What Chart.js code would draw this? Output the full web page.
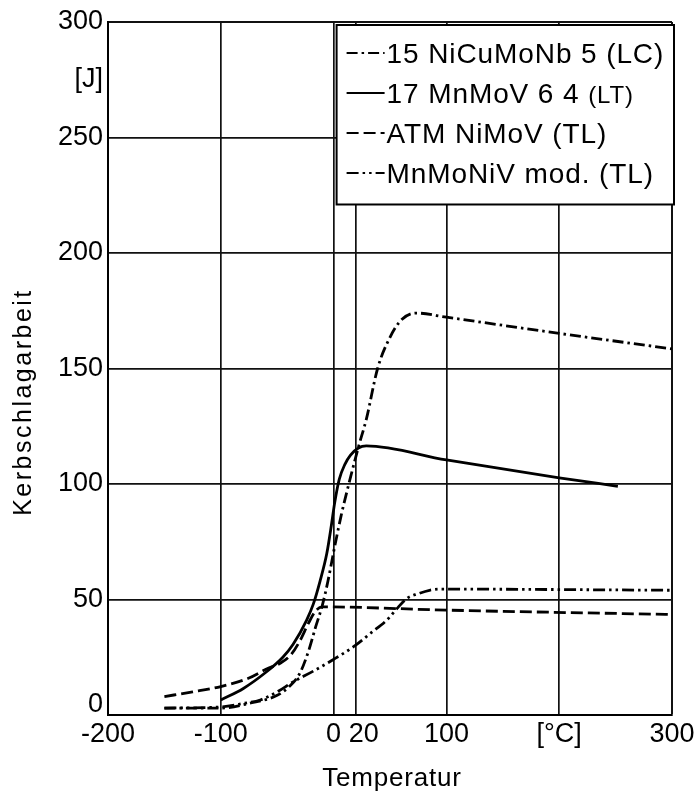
<!DOCTYPE html>
<html>
<head>
<meta charset="utf-8">
<script src="https://cdn.jsdelivr.net/npm/chart.js@4.4.1/dist/chart.umd.min.js"></script>
<style>
  html, body { margin: 0; padding: 0; background: #fff; }
  #wrap { width: 700px; height: 798px; position: relative; }
</style>
</head>
<body>
<div id="wrap"><canvas id="kerbChart"></canvas></div>
<script>
// Kerbschlagarbeit über Temperatur – vier Werkstoffe

const seriesNames = [
  "15 NiCuMoNb 5 (LC)",
  "17 MnMoV 6 4 (LT)",
  "ATM NiMoV (TL)",
  "MnMoNiV mod. (TL)",
];

// 15 NiCuMoNb 5 (LC)
const lcTemp = [-150, -100, -75, -50, -40, -30, -22, -16, -10, -5, 1, 7, 14, 22, 29, 39, 50, 60, 73, 100, 200, 300];
const lcEnergy = [3, 3, 5, 8.5, 12, 18, 28, 38, 47.5, 58, 73, 87, 101, 116, 128, 150, 163.5, 171, 174, 172.2, 165.2, 158.5];

// 17 MnMoV 6 4 (LT)
const ltTemp = [-100, -80, -60, -45, -36, -24, -18, -12, -6, -2, 1, 5, 10, 15, 22, 29, 100, 200, 252];
const ltEnergy = [6.5, 11.5, 18.5, 25, 30.5, 41, 48, 58, 70, 82, 92, 102, 108.5, 112.5, 115.6, 116.5, 110.4, 102.7, 99];

// ATM NiMoV (TL)
const atmTemp = [-150, -125, -100, -75, -59, -47, -38, -30, -22, -16, -10, 100, 300];
const atmEnergy = [8, 10, 12.3, 16, 20, 22.5, 26, 32, 40, 45, 46.8, 45.4, 43.5];

// MnMoNiV mod. (TL)
const modTemp = [-150, -100, -80, -65, -50, -36, -18, -2, 19, 33, 47, 57, 65, 75, 85, 95, 300];
const modEnergy = [3, 3.5, 5, 6.5, 10, 14.3, 19, 23.5, 30, 35.5, 41, 46.5, 50.5, 52.5, 54, 54.5, 54];

const xTickValues = [-200, -100, 0, 20, 100, 200, 300];
const xTickLabels = ["-200", "-100", "0", "20", "100", "[°C]", "300"];
const yTickValues = [0, 50, 100, 150, 200, 250, 275, 300];
const yTickLabels = ["0", "50", "100", "150", "200", "250", "[J]", "300"];

const FONT = "'Liberation Sans', Arial, Helvetica, sans-serif";

function toPoints(xs, ys) {
  return xs.map((x, i) => ({ x, y: ys[i] }));
}

function curve(label, xs, ys, dash) {
  return {
    label,
    data: toPoints(xs, ys),
    borderColor: "#000",
    borderWidth: 2.8,
    borderDash: dash,
    pointRadius: 0,
    fill: false,
    cubicInterpolationMode: "monotone",
  };
}

// Legende im Diagramm + Achsentitel
const overlayPlugin = {
  id: "overlay",
  afterDraw(chart, args, opts) {
    const { ctx, chartArea: a, scales } = chart;
    const x = scales.x, y = scales.y;

    const left = x.getPixelForValue(0) + 3;
    const top = a.top + 3;
    const right = a.right + 2;
    const bottom = y.getPixelForValue(221);

    ctx.save();
    ctx.fillStyle = "#fff";
    ctx.fillRect(left, top, right - left, bottom - top);
    ctx.lineWidth = 2;
    ctx.strokeStyle = "#000";
    ctx.strokeRect(left, top, right - left, bottom - top);

    chart.data.datasets.forEach((ds, i) => {
      const cy = top + 28 + i * 40;
      ctx.setLineDash(ds.borderDash || []);
      ctx.lineWidth = 2;
      ctx.beginPath();
      ctx.moveTo(left + 10, cy);
      ctx.lineTo(left + 48, cy);
      ctx.stroke();
      ctx.setLineDash([]);

      ctx.fillStyle = "#000";
      ctx.textAlign = "left";
      ctx.textBaseline = "alphabetic";
      ctx.letterSpacing = "0.9px";
      let tx = left + 50;
      const base = cy + 10;
      if ((opts.smallNoteRows || []).includes(i)) {
        const cut = ds.label.lastIndexOf("(");
        const main = ds.label.slice(0, cut);
        ctx.font = "28px " + FONT;
        ctx.fillText(main, tx, base);
        tx += ctx.measureText(main).width;
        ctx.font = "24px " + FONT;
        ctx.fillText(ds.label.slice(cut), tx, base);
      } else {
        ctx.font = "28px " + FONT;
        ctx.fillText(ds.label, tx, base);
      }
    });

    // x-Titel
    ctx.font = "26px " + FONT;
    ctx.letterSpacing = "0.8px";
    ctx.textAlign = "center";
    ctx.textBaseline = "alphabetic";
    ctx.fillText(x.options.title.text, (a.left + a.right) / 2 + 2, 786);

    // y-Titel
    ctx.translate(24, 402);
    ctx.rotate(-Math.PI / 2);
    ctx.font = "25px " + FONT;
    ctx.letterSpacing = "2.5px";
    ctx.textBaseline = "middle";
    ctx.fillText(y.options.title.text, 0, 0);
    ctx.restore();
  },
};

function edgeWidth(ctx) {
  const v = ctx.tick && ctx.tick.value;
  return v === 300 ? 2 : 1.7;
}

const chart = new Chart(document.getElementById("kerbChart"), {
  type: "line",
  data: {
    datasets: [
      curve(seriesNames[0], lcTemp, lcEnergy, [11, 4, 2.5, 4]),
      curve(seriesNames[1], ltTemp, ltEnergy, []),
      curve(seriesNames[2], atmTemp, atmEnergy, [12, 5]),
      curve(seriesNames[3], modTemp, modEnergy, [12, 4, 2.5, 4, 2.5, 4]),
    ],
  },
  options: {
    responsive: true,
    maintainAspectRatio: false,
    animation: false,
    layout: { padding: { top: 22, right: 28, left: 0, bottom: 0 } },
    scales: {
      x: {
        type: "linear",
        min: -200,
        max: 300,
        afterBuildTicks: (axis) => {
          axis.ticks = xTickValues.map((v) => ({ value: v }));
        },
        afterFit: (axis) => {
          axis.height = 83;
        },
        ticks: {
          autoSkip: false,
          maxRotation: 0,
          minRotation: 0,
          padding: 3,
          color: "#000",
          font: { family: FONT, size: 27 },
          callback: (v) => {
            const label = xTickLabels[xTickValues.indexOf(v)];
            return v === 20 ? "  " + label : label;
          },
        },
        grid: { color: "#111", lineWidth: edgeWidth, drawTicks: false },
        border: { color: "#000", width: 2 },
        title: { display: false, text: "Temperatur" },
      },
      y: {
        type: "linear",
        min: 0,
        max: 300,
        afterBuildTicks: (axis) => {
          axis.ticks = yTickValues.map((v) => ({ value: v }));
        },
        afterFit: (axis) => {
          axis.width = 108;
        },
        ticks: {
          padding: 5,
          color: "#000",
          font: (ctx) => ({
            family: FONT,
            size: 27,
            lineHeight: ctx.tick && ctx.tick.value === 0 ? 0.75 : 1.2,
          }),
          callback: (v) => {
            const label = yTickLabels[yTickValues.indexOf(v)];
            // "0" sits a little above the baseline, as in the original
            return v === 0 ? [label, ""] : label;
          },
        },
        grid: {
          color: (ctx) => (ctx.tick && ctx.tick.value === 275 ? "rgba(0,0,0,0)" : "#111"),
          lineWidth: edgeWidth,
          drawTicks: false,
        },
        border: { color: "#000", width: 2 },
        title: { display: false, text: "Kerbschlagarbeit" },
      },
    },
    plugins: {
      legend: { display: false },
      tooltip: { enabled: false },
      overlay: { smallNoteRows: [1] },
    },
  },
  plugins: [overlayPlugin],
});
</script>
</body>
</html>
